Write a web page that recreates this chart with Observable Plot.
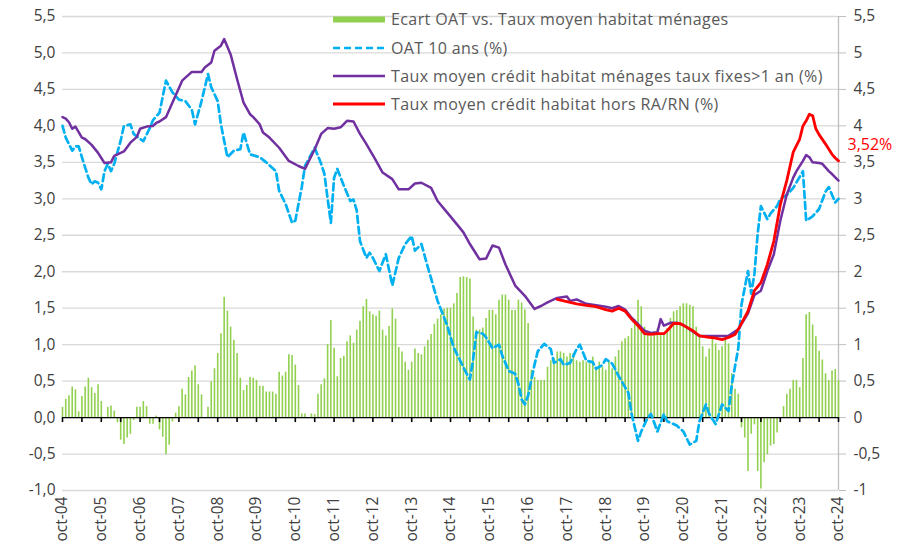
<!DOCTYPE html>
<html><head><meta charset="utf-8">
<script src="https://cdn.jsdelivr.net/npm/d3@7"></script>
<script src="https://cdn.jsdelivr.net/npm/@observablehq/plot@0.6"></script>
<style>
body{margin:0;background:#fff;}
#chart{width:900px;height:554px;}
</style></head><body><div id="chart"></div>
<script>
// x = months since oct-04 (0 = oct-04, 240 = oct-24)

// Ecart OAT vs. Taux moyen habitat ménages (monthly, oct-04 .. oct-24)
const ecart = [
 0.14,0.25,0.30,0.42,0.38,0.08,0.29,0.42,0.54,0.41,
 0.33,0.45,0.22,0.00,0.14,0.16,0.09,-0.07,-0.31,-0.37,
 -0.28,-0.23,-0.04,0.14,0.14,0.22,0.15,-0.09,-0.09,0.02,
 -0.17,-0.27,-0.51,-0.38,-0.06,0.06,0.15,0.39,0.31,0.55,
 0.64,0.71,0.45,0.31,0.00,0.14,0.49,0.67,0.88,1.15,
 1.65,1.46,1.24,1.06,0.88,0.54,0.37,0.44,0.55,0.54,
 0.51,0.43,0.43,0.35,0.35,0.35,0.32,0.62,0.57,0.62,
 0.86,0.85,0.72,0.44,0.05,0.05,-0.01,0.05,0.04,0.32,
 0.45,0.53,1.00,1.33,0.95,0.56,0.81,0.84,1.04,1.12,
 1.02,1.20,1.32,1.52,1.62,1.45,1.41,1.39,1.46,1.20,
 1.12,1.25,1.49,1.35,0.96,0.90,0.76,0.65,0.76,0.94,
 0.88,0.86,0.97,1.06,1.14,1.28,1.35,1.41,1.49,1.50,
 1.50,1.56,1.70,1.92,1.93,1.92,1.90,1.38,1.20,1.20,
 1.23,1.36,1.47,1.47,1.41,1.61,1.68,1.68,1.61,1.47,
 1.47,1.61,1.57,1.48,1.29,0.65,0.55,0.51,0.51,0.51,
 0.69,0.78,0.81,0.90,0.90,0.88,0.83,0.88,0.88,0.78,
 0.76,0.78,0.76,0.76,0.83,0.69,0.76,0.69,0.65,0.78,
 0.67,0.83,0.92,1.04,1.08,1.11,1.22,1.34,1.61,1.52,
 1.24,1.13,1.11,1.18,1.22,1.13,1.13,1.22,1.36,1.45,
 1.47,1.52,1.56,1.56,1.54,1.52,1.24,1.11,0.97,0.83,
 0.94,1.11,1.01,0.92,0.97,1.06,1.01,0.60,0.39,0.32,
 -0.14,-0.28,-0.74,-0.23,-0.10,-0.74,-0.98,-0.62,-0.51,-0.39,
 -0.37,-0.21,0.00,0.15,0.32,0.39,0.51,0.51,0.41,0.81,
 1.41,1.44,1.27,1.11,0.91,0.79,0.60,0.51,0.64,0.66,0.51
];

// OAT 10 ans (%)
const oatMonth = [0,1,3,4,5,6,8,9,10,11,12,13,14,15,16,18,19,21,22,24,25,27,28,30,32,34,36,38,40,41,43,45,46,48,49,51,53,55,56,58,61,63,66,67,69,71,72,74,75,78,80,81,82,83,84,85,87,89,90,91,92,94,95,96,98,100,102,104,106,108,109,111,113,116,119,121,124,126,127,128,130,131,133,135,136,138,140,141,142,143,144,146,147,149,151,152,154,155,157,159,160,162,164,165,167,168,170,172,175,176,178,179,181,182,184,186,187,190,192,194,196,197,199,200,202,204,206,207,209,210,212,213,214,215,216,218,219,221,222,224,226,228,229,230,232,234,236,237,239,240];
const oatValue = [4.00,3.84,3.66,3.72,3.72,3.57,3.29,3.20,3.24,3.22,3.13,3.38,3.48,3.38,3.48,3.80,4.00,4.02,3.89,3.82,3.79,3.97,4.08,4.18,4.62,4.46,4.36,4.34,4.22,4.02,4.34,4.71,4.53,4.34,4.02,3.57,3.66,3.68,3.91,3.61,3.57,3.50,3.38,3.11,2.93,2.67,2.70,3.16,3.45,3.70,3.48,3.34,3.00,2.67,3.29,3.41,3.18,2.97,2.99,2.84,2.42,2.19,2.26,2.19,2.01,2.24,1.81,2.19,2.38,2.49,2.29,2.38,2.06,1.60,1.26,0.96,0.69,0.52,0.80,1.17,1.15,1.10,0.95,1.00,0.85,0.64,0.60,0.46,0.25,0.18,0.30,0.73,0.91,1.01,0.94,0.75,0.80,0.72,0.75,0.94,1.00,0.78,0.76,0.67,0.72,0.80,0.74,0.57,0.34,0.05,-0.32,-0.19,0.00,0.05,-0.19,0.05,-0.05,-0.11,-0.19,-0.37,-0.32,-0.05,0.18,0.05,-0.09,0.18,0.09,0.45,0.95,1.55,2.01,1.70,1.97,2.52,2.90,2.72,2.80,2.90,3.00,3.05,3.15,3.30,3.38,2.70,2.76,2.86,3.10,3.16,2.95,3.00];

// Taux moyen crédit habitat ménages taux fixes>1 an (%)
const tauxMonth = [0,1,2,3,4,6,7,9,11,12,13,15,16,18,19,21,23,24,26,28,29,30,32,37,40,43,44,46,47,49,50,52,54,56,58,59,61,62,64,67,70,73,75,78,80,82,84,86,88,90,92,94,97,99,102,104,107,109,111,114,116,119,122,124,126,128,129,131,133,135,137,140,143,146,148,150,153,156,157,159,162,165,168,170,172,174,176,178,180,182,184,185,186,188,190,192,194,197,201,204,206,209,212,214,216,218,220,222,224,226,227,229,230,231,232,234,235,237,238,240];
const tauxValue = [4.12,4.10,4.05,3.96,3.99,3.84,3.82,3.74,3.63,3.56,3.49,3.50,3.59,3.63,3.65,3.77,3.85,3.96,3.99,4.00,4.04,4.06,4.12,4.62,4.74,4.74,4.80,4.87,5.03,5.10,5.19,4.98,4.64,4.32,4.16,4.12,4.02,3.91,3.84,3.70,3.52,3.45,3.41,3.68,3.89,3.97,3.96,3.98,4.07,4.06,3.89,3.75,3.52,3.36,3.27,3.13,3.13,3.21,3.22,3.15,2.97,2.81,2.65,2.54,2.38,2.24,2.17,2.18,2.36,2.33,2.10,1.81,1.67,1.49,1.53,1.58,1.64,1.66,1.60,1.62,1.56,1.54,1.52,1.50,1.53,1.48,1.37,1.28,1.19,1.16,1.17,1.35,1.26,1.30,1.30,1.27,1.21,1.12,1.12,1.12,1.12,1.21,1.43,1.68,1.74,2.01,2.24,2.70,3.06,3.29,3.38,3.52,3.60,3.57,3.50,3.49,3.48,3.38,3.34,3.25];

// Taux moyen crédit habitat hors RA/RN (%)
const horsMonth = [153,157,159,162,165,168,170,172,174,176,178,180,182,184,186,187,189,191,193,195,197,200,202,204,206,208,209,212,214,216,218,220,222,224,226,228,229,230,231,232,233,234,236,238,239,240];
const horsValue = [1.62,1.58,1.56,1.54,1.52,1.48,1.46,1.50,1.46,1.35,1.26,1.15,1.14,1.15,1.15,1.19,1.29,1.29,1.24,1.19,1.12,1.10,1.09,1.07,1.10,1.14,1.21,1.46,1.74,1.85,2.10,2.42,2.92,3.25,3.64,3.82,4.00,4.07,4.16,4.14,3.96,3.88,3.75,3.61,3.56,3.52];

const yTicks = [-1,-0.5,0,0.5,1,1.5,2,2.5,3,3.5,4,4.5,5,5.5];
const xLabels = ["oct-04","oct-05","oct-06","oct-07","oct-08","oct-09","oct-10","oct-11","oct-12","oct-13","oct-14","oct-15","oct-16","oct-17","oct-18","oct-19","oct-20","oct-21","oct-22","oct-23","oct-24"];
const legendLabels = ["Ecart OAT vs. Taux moyen habitat ménages","OAT 10 ans (%)","Taux moyen crédit habitat ménages taux fixes>1 an (%)","Taux moyen crédit habitat hors RA/RN (%)"];
const lastLabel = "3,52%";

const bars = ecart.map((v, i) => ({m: i, v}));
const oat = oatMonth.map((m, i) => ({m, v: oatValue[i]}));
const taux = tauxMonth.map((m, i) => ({m, v: tauxValue[i]}));
const hors = horsMonth.map((m, i) => ({m, v: horsValue[i]}));
const yearTicks = xLabels.map((_, i) => i * 12);
const halfTicks = d3.range(0, 241, 6);

const fmtL = v => v.toFixed(1).replace(".", ",");
const fmtR = v => String(v).replace(".", ",");
const FONT = "'Open Sans', sans-serif";

const chart = Plot.plot({
  width: 900, height: 554,
  marginLeft: 62, marginRight: 62, marginTop: 16, marginBottom: 64,
  x: {type: "linear", domain: [0, 240], label: null},
  y: {domain: [-1, 5.5], label: null},
  style: {fontFamily: FONT, fontSize: "15.5px", color: "#404040", background: "#fff"},
  marks: [
    Plot.gridY(yTicks, {stroke: "#d9d9d9", strokeOpacity: 1, strokeWidth: 1.3}),
    Plot.ruleX([240], {y1: -1, y2: 5.5, stroke: "#bfbfbf", strokeWidth: 1.3}),
    Plot.axisY(yTicks, {anchor: "left", label: null, tickSize: 0, tickPadding: 7, tickFormat: fmtL}),
    Plot.axisY(yTicks, {anchor: "right", label: null, tickSize: 7, tickPadding: 8, stroke: "#bfbfbf", fill: "#404040", tickFormat: fmtR}),
    Plot.axisX(yearTicks, {anchor: "bottom", label: null, tickSize: 0, tickPadding: 6, tickRotate: -90, tickFormat: m => xLabels[m / 12]}),
    Plot.ruleX(bars, {x: "m", y1: 0, y2: "v", stroke: "#92d050", strokeWidth: 1.6}),
    Plot.ruleY([0], {stroke: "#000", strokeWidth: 1.3}),
    Plot.ruleX(halfTicks, {x: d => d, y1: 0, y2: 0, insetBottom: -5, stroke: "#000", strokeWidth: 1.6}),
    Plot.line(oat, {x: "m", y: "v", stroke: "#00b0f0", strokeWidth: 2.7, strokeDasharray: "7,4"}),
    Plot.line(taux, {x: "m", y: "v", stroke: "#7030a0", strokeWidth: 2.5}),
    Plot.line(hors, {x: "m", y: "v", stroke: "#ff0000", strokeWidth: 2.8}),
    Plot.text(hors.slice(-1), {x: "m", y: "v", text: () => lastLabel, dx: 9, dy: -16, textAnchor: "start", fill: "#ff0000", fontSize: 16})
  ]
});

// Legend drawn inside the plot area
const svg = d3.select(chart);
const lg = svg.append("g").attr("font-family", FONT).attr("font-size", 16)
  .attr("letter-spacing", "0.4px").attr("fill", "#595959").attr("text-anchor", "start");
const rowY = [19.5, 48, 76, 104];
const swatches = [
  {type: "rect", color: "#92d050"},
  {type: "line", color: "#00b0f0", dash: "7,4", w: 2.7},
  {type: "line", color: "#7030a0", w: 2.5},
  {type: "line", color: "#ff0000", w: 2.8}
];
legendLabels.forEach((t, i) => {
  const s = swatches[i];
  if (s.type === "rect") {
    lg.append("rect").attr("x", 333).attr("y", rowY[i] - 3).attr("width", 52).attr("height", 6).attr("fill", s.color);
  } else {
    lg.append("line").attr("x1", 333).attr("x2", 385).attr("y1", rowY[i]).attr("y2", rowY[i])
      .attr("stroke", s.color).attr("stroke-width", s.w).attr("stroke-dasharray", s.dash || null);
  }
  lg.append("text").attr("x", 391).attr("y", rowY[i]).attr("dy", "0.35em").attr("text-anchor", "start").text(t);
});

document.getElementById("chart").append(chart);
</script>
</body></html>
